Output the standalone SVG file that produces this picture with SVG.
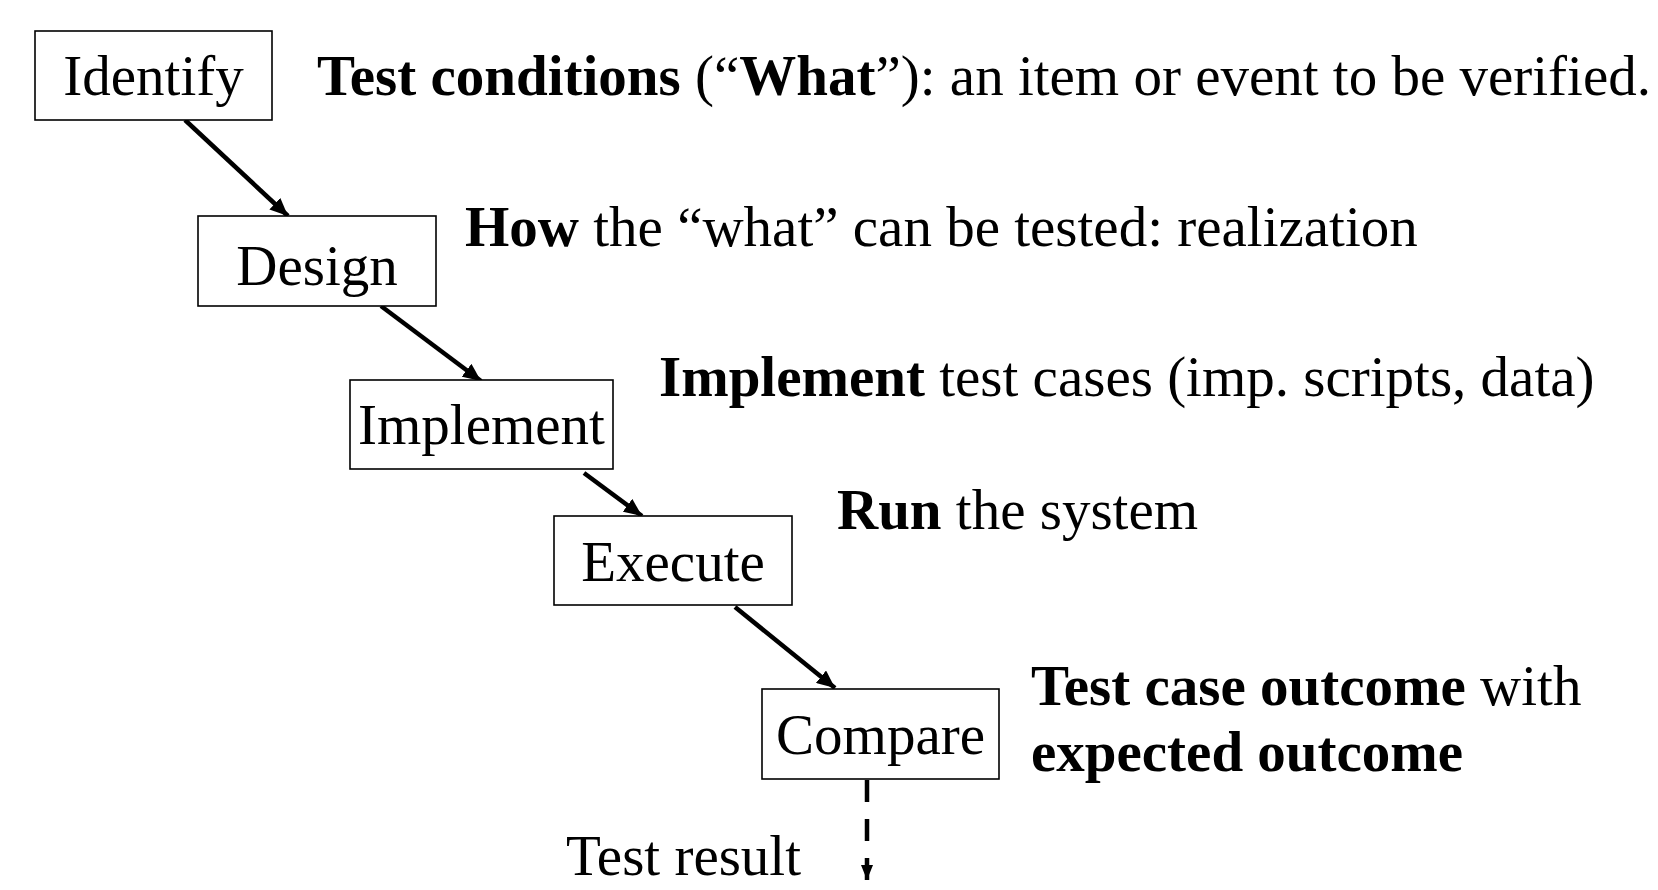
<svg xmlns="http://www.w3.org/2000/svg" width="1658" height="890" viewBox="0 0 1658 890">
<style>
.box{fill:#fff;stroke:#000;stroke-width:1.6}
.lbl{font-family:"Liberation Serif","Times New Roman",serif;font-size:57px;fill:#000}
.b{font-weight:bold}
.conn{stroke:#000;stroke-width:4.5;fill:none}
</style>
<defs>
<marker id="ah" markerUnits="userSpaceOnUse" markerWidth="20" markerHeight="16" refX="18" refY="8" orient="auto">
<path d="M0,0 L18,8 L0,16 Z" fill="#000"/>
</marker>
<marker id="ahs" markerUnits="userSpaceOnUse" markerWidth="16" markerHeight="12" refX="15" refY="6" orient="auto">
<path d="M0,0 L15,6 L0,12 Z" fill="#000"/>
</marker>
</defs>
<rect width="1658" height="890" fill="#fff"/>
<g id="connectors">
<line class="conn" x1="185" y1="120" x2="288" y2="216" marker-end="url(#ah)"/>
<line class="conn" x1="381" y1="306" x2="481" y2="381" marker-end="url(#ah)"/>
<line class="conn" x1="584" y1="473" x2="642" y2="516" marker-end="url(#ah)"/>
<line class="conn" x1="735" y1="607" x2="835" y2="688" marker-end="url(#ah)"/>
<line class="conn" x1="867" y1="780" x2="867" y2="880" stroke-dasharray="22 17" marker-end="url(#ahs)"/>
</g>
<g id="identify">
<rect class="box" x="35" y="31" width="237" height="89"/>
<text class="lbl" x="153.5" y="95" text-anchor="middle">Identify</text>
</g>
<g id="design">
<rect class="box" x="198" y="216" width="238" height="90"/>
<text class="lbl" x="317" y="285" text-anchor="middle">Design</text>
</g>
<g id="implement">
<rect class="box" x="350" y="380" width="263" height="89"/>
<text class="lbl" x="481.5" y="444" text-anchor="middle">Implement</text>
</g>
<g id="execute">
<rect class="box" x="554" y="516" width="238" height="89"/>
<text class="lbl" x="673" y="581" text-anchor="middle">Execute</text>
</g>
<g id="compare">
<rect class="box" x="762" y="689" width="237" height="90"/>
<text class="lbl" x="880.5" y="754" text-anchor="middle">Compare</text>
</g>
<g id="annotations">
<text class="lbl" x="317" y="95"><tspan class="b">Test conditions</tspan> (“<tspan class="b">What</tspan>”): an item or event to be verified.</text>
<text class="lbl" x="465" y="246"><tspan class="b">How</tspan> the “what” can be tested: realization</text>
<text class="lbl" x="659" y="396"><tspan class="b">Implement</tspan> test cases (imp. scripts, data)</text>
<text class="lbl" x="837" y="529"><tspan class="b">Run</tspan> the system</text>
<text class="lbl" x="1031" y="705"><tspan class="b">Test case outcome</tspan> with</text>
<text class="lbl b" x="1031" y="771">expected outcome</text>
<text class="lbl" x="566" y="875">Test result</text>
</g>
</svg>
